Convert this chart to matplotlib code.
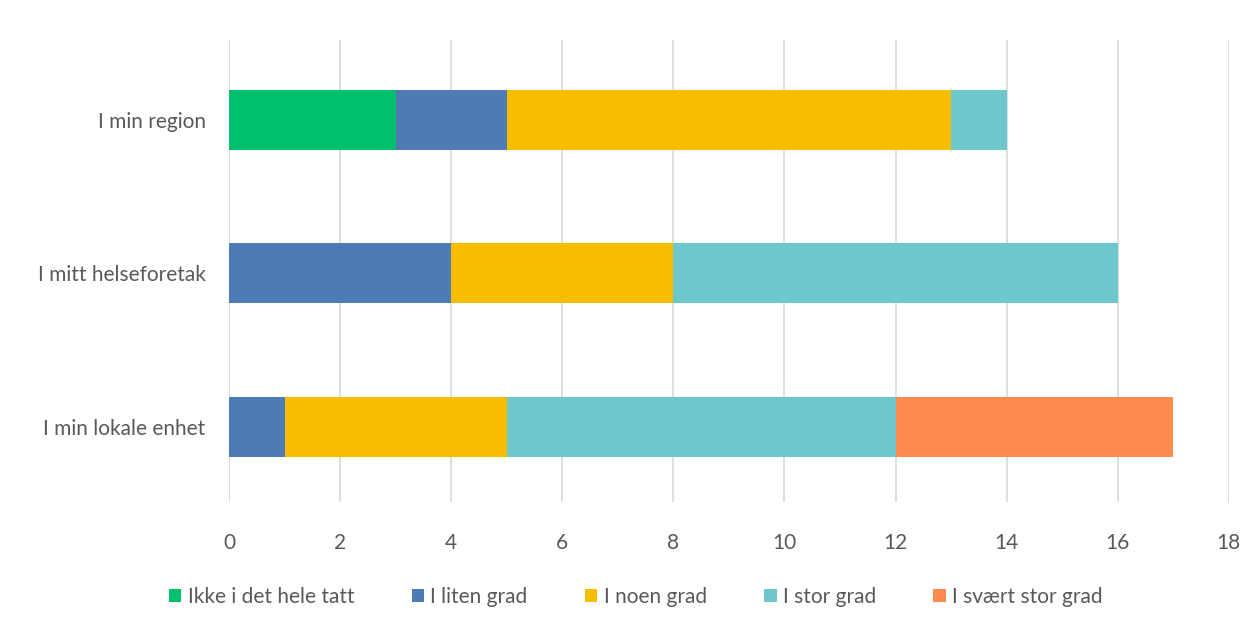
import matplotlib.pyplot as plt
import numpy as np

plt.rcParams['font.family'] = ['Lato', 'DejaVu Sans']

categories = ["I min lokale enhet", "I mitt helseforetak", "I min region"]
series_names = ["Ikke i det hele tatt", "I liten grad", "I noen grad", "I stor grad", "I svært stor grad"]
ikke = [0, 0, 3]
liten = [1, 4, 2]
noen = [4, 4, 8]
stor = [7, 8, 1]
svaert = [5, 0, 0]
colors = ["#00BF6F", "#4E7AB5", "#F7BE00", "#6CC8CC", "#FF8C4F"]

fig = plt.figure(figsize=(12.59, 6.34), dpi=100)
ax = fig.add_axes([0.182, 0.208, 0.794, 0.729])

y = np.arange(len(categories))
left = np.zeros(len(categories))
for name, vals, c in zip(series_names, [ikke, liten, noen, stor, svaert], colors):
    vals = np.array(vals, dtype=float)
    ax.barh(y, vals, left=left, height=0.39, color=c, label=name, zorder=3)
    left += vals

ax.set_xlim(0, 18)
ax.set_ylim(-0.49, 2.52)
ax.set_xticks(range(0, 19, 2))
ax.set_yticks(y)
ax.set_yticklabels(categories)
ax.grid(axis='x', color='#D9D9D9', linewidth=1.2, zorder=0)
for s in ax.spines.values():
    s.set_visible(False)
ax.tick_params(axis='both', length=0, labelsize=15, colors='#595959')
ax.tick_params(axis='x', pad=22)
ax.tick_params(axis='y', pad=17)

fig.legend(loc='center', bbox_to_anchor=(0.505, 0.058), ncol=5, frameon=False,
           fontsize=15, labelcolor='#595959', handlelength=0.6, handleheight=0.6,
           handletextpad=0.3, columnspacing=2.75)

fig.savefig("out.png", dpi=100, facecolor='white')
